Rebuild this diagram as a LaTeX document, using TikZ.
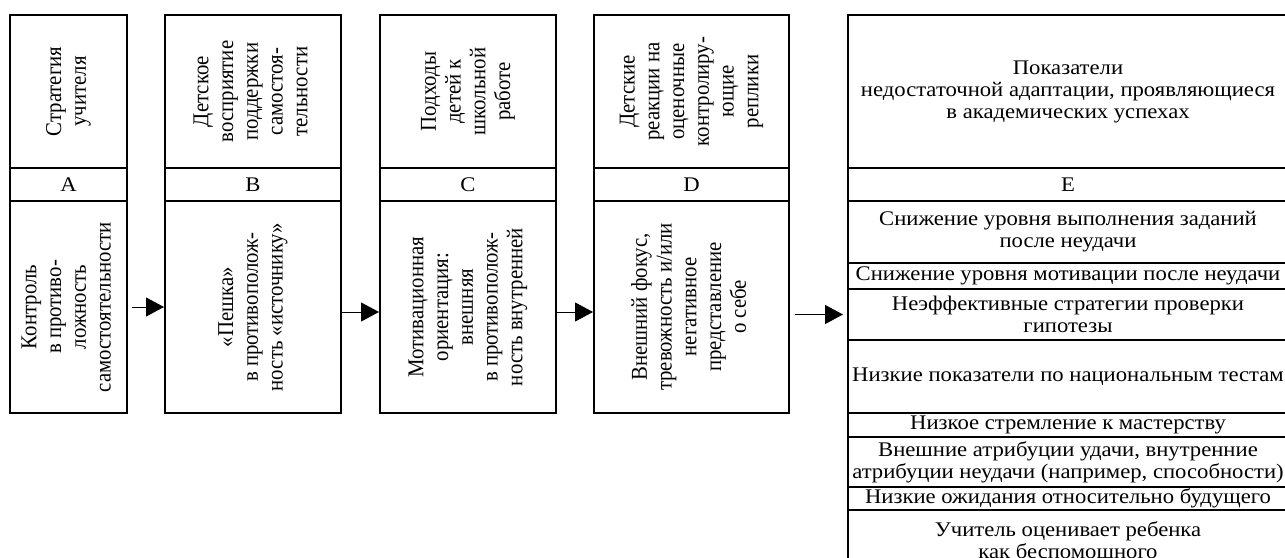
\documentclass[tikz,border=0pt]{standalone}
\usepackage{fontspec}
\setmainfont{Liberation Serif}
\newfontfamily\widefont[FakeStretch=1.09]{Liberation Serif}
\usetikzlibrary{arrows.meta}
\newcommand{\vcell}[1]{\rotatebox{90}{\scalebox{1}[1.09]{\begin{tabular}{@{}c@{}}#1\end{tabular}}}}
\tikzset{
  cell/.style={draw, line width=2pt, inner sep=0pt, anchor=north west},
  vfont/.style={font=\fontsize{20.8}{22.7}\selectfont},
  hfont/.style={font=\widefont\fontsize{20.8}{22}\selectfont, align=center},
}
\begin{document}
\begin{tikzpicture}[>={Triangle[length=18pt,width=19pt]},x=1pt,y=-1pt]
  \useasboundingbox (0,0) rectangle (1285,557);
  \node[cell, vfont, minimum width=117pt, minimum height=153pt] (topA) at (9,14) {\vcell{Стратегия\\учителя}};
  \node[cell, hfont, minimum width=117pt, minimum height=33pt] (letA) at (9,167) {A};
  \node[cell, vfont, minimum width=117pt, minimum height=212pt] (bodyA) at (9,200) {\vcell{Контроль\\в противо-\\ложность\\самостоятельности}};

  \node[cell, vfont, minimum width=176pt, minimum height=153pt] (topB) at (164,14) {\vcell{Детское\\восприятие\\поддержки\\самостоя-\\тельности}};
  \node[cell, hfont, minimum width=176pt, minimum height=33pt] (letB) at (164,167) {B};
  \node[cell, vfont, minimum width=176pt, minimum height=212pt] (bodyB) at (164,200) {\vcell{«Пешка»\\в противополож-\\ность «источнику»}};

  \node[cell, vfont, minimum width=176pt, minimum height=153pt] (topC) at (379,14) {\vcell{Подходы\\детей к\\школьной\\работе}};
  \node[cell, hfont, minimum width=176pt, minimum height=33pt] (letC) at (379,167) {C};
  \node[cell, vfont, minimum width=176pt, minimum height=212pt] (bodyC) at (379,200) {\vcell{Мотивационная\\ориентация:\\внешняя\\в противополож-\\ность внутренней}};

  \node[cell, vfont, minimum width=195pt, minimum height=153pt] (topD) at (593,14) {\vcell{Детские\\реакции на\\оценочные\\контролиру-\\ющие\\реплики}};
  \node[cell, hfont, minimum width=195pt, minimum height=33pt] (letD) at (593,167) {D};
  \node[cell, vfont, minimum width=195pt, minimum height=212pt] (bodyD) at (593,200) {\vcell{Внешний фокус,\\тревожность и/или\\негативное\\представление\\о себе}};

  \node[cell, hfont, minimum width=440pt, minimum height=153pt] (headE) at (847,14) {Показатели\\недостаточной адаптации, проявляющиеся\\в академических успехах};
  \node[cell, hfont, minimum width=440pt, minimum height=33pt] (letE) at (847,167) {E};
  \node[cell, hfont, minimum width=440pt, minimum height=62pt] (itemE1) at (847,200) {Снижение уровня выполнения заданий\\после неудачи};
  \node[cell, hfont, minimum width=440pt, minimum height=26pt] (itemE2) at (847,262) {Снижение уровня мотивации после неудачи};
  \node[cell, hfont, minimum width=440pt, minimum height=51pt] (itemE3) at (847,288) {Неэффективные стратегии проверки\\гипотезы};
  \node[cell, hfont, minimum width=440pt, minimum height=73pt] (itemE4) at (847,339) {Низкие показатели по национальным тестам};
  \node[cell, hfont, minimum width=440pt, minimum height=24pt] (itemE5) at (847,412) {Низкое стремление к мастерству};
  \node[cell, hfont, minimum width=440pt, minimum height=50pt] (itemE6) at (847,436) {Внешние атрибуции удачи, внутренние\\атрибуции неудачи (например, способности)};
  \node[cell, hfont, minimum width=440pt, minimum height=23pt] (itemE7) at (847,486) {Низкие ожидания относительно будущего};
  \node[cell, hfont, minimum width=440pt, minimum height=64pt] (itemE8) at (847,509) {Учитель оценивает ребенка\\как беспомощного};

  \draw[->, line width=1pt, shorten <=4pt] (bodyA.east) -- (bodyB.west);
  \draw[->, line width=1pt] ([yshift=-5pt]bodyB.east) -- ([yshift=-5pt]bodyC.west);
  \draw[->, line width=1pt] ([yshift=-5pt]bodyC.east) -- ([yshift=-5pt]bodyD.west);
  \draw[->, line width=1pt, shorten <=5pt, shorten >=4pt] (bodyD.east |- itemE3.west) -- (itemE3.west);
\end{tikzpicture}
\end{document}
